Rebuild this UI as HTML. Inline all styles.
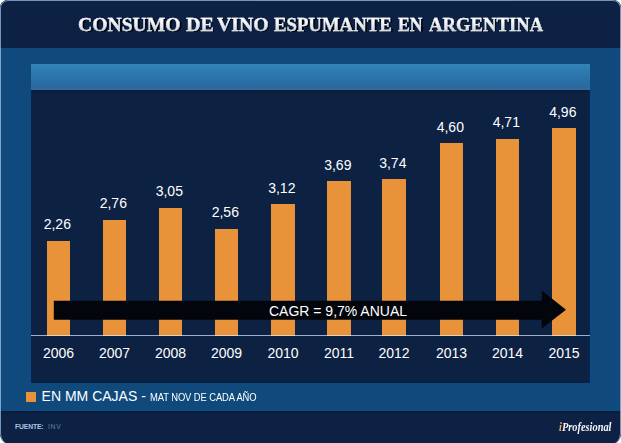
<!DOCTYPE html>
<html><head><meta charset="utf-8">
<style>
html,body{margin:0;padding:0;background:#fff;}
body{width:621px;height:443px;position:relative;overflow:hidden;font-family:"Liberation Sans",sans-serif;}
#box{position:absolute;left:0;top:0;width:621px;height:445px;border-radius:8px 8px 12px 12px;overflow:hidden;background:#104a7c;}
#hdr{position:absolute;left:0;top:0;width:621px;height:48px;background:#0c2143;}
.tw{position:absolute;top:10.9px;font-family:"Liberation Serif",serif;font-weight:bold;font-size:19.8px;line-height:26px;white-space:nowrap;transform-origin:0 0;}
.tsh{color:rgba(0,0,0,0.85);margin-top:1.2px;filter:blur(0.5px);}
.ttx{background:linear-gradient(#ffffff 35%,#c4ccd8 85%);-webkit-background-clip:text;background-clip:text;color:transparent;-webkit-text-stroke:0.3px rgba(230,235,245,0.9);}
#gbar{position:absolute;left:31px;top:64px;width:559px;height:26px;background:linear-gradient(#3383b9,#2d78ae 35%,#286a9f 88%,#35699b 96%,#3a6d9e);}
#plot{position:absolute;left:31px;top:90px;width:559px;height:293px;background:linear-gradient(#051d3c,#0d2243 4px,#0d2243);box-shadow:inset 1px 0 #072450,inset -2px 0 #062451,inset 0 -2px #06213f;}
#axis{position:absolute;left:31px;top:334.5px;width:559px;height:1.5px;background:rgba(225,235,255,0.7);}
.bar{position:absolute;width:23px;background:#e8933a;}
.val{position:absolute;width:60px;text-align:center;color:#fff;font-size:14px;line-height:15px;}
.yr{position:absolute;top:345.6px;width:60px;text-align:center;color:#fff;font-size:14px;line-height:15px;}
#arrow{position:absolute;left:0;top:0;}
#cagr{position:absolute;left:200px;top:302px;width:276px;text-align:center;color:#fff;font-size:14px;line-height:19px;}
#ftr{position:absolute;left:0;top:411px;width:621px;height:35px;background:linear-gradient(#061c3b,#0c2143 3px,#0c2143);}
#sq{position:absolute;left:26px;top:392px;width:10px;height:10px;background:#e8933a;}
#leg1{position:absolute;left:41.6px;top:387.5px;color:#fff;font-size:14px;line-height:16px;white-space:nowrap;}
#leg2{position:absolute;left:149.6px;top:392.4px;color:#fff;font-size:10px;line-height:12px;white-space:nowrap;letter-spacing:-0.1px;transform:scaleX(0.94);transform-origin:0 0;}
#src{position:absolute;left:15px;top:422.25px;font-size:6.8px;line-height:9px;color:#a9c4e8;white-space:nowrap;font-weight:bold;letter-spacing:-0.15px;}
#inv{position:absolute;left:48px;top:422.25px;font-size:6.8px;line-height:9px;color:#6683ab;white-space:nowrap;letter-spacing:0.7px;}
#logo{position:absolute;left:558.5px;top:419.5px;font-family:"Liberation Serif",serif;font-weight:bold;font-style:italic;font-size:12px;line-height:14px;color:#f4f6fa;white-space:nowrap;transform:scaleX(0.865);transform-origin:0 0;}
#logo span{color:#e8b070;}
#edge{position:absolute;left:0;top:0;width:619px;height:444px;border:1px solid rgba(190,220,255,0.62);border-bottom:none;border-radius:8px 8px 12px 12px;}
</style></head><body>
<div id="box">
<div id="hdr"></div>
<div class="tw tsh" style="left:79.64px;transform:scaleX(0.9934)">CONSUMO</div><div class="tw tsh" style="left:187.45px;transform:scaleX(1.0137)">DE</div><div class="tw tsh" style="left:218.38px;transform:scaleX(0.9997)">VINO</div><div class="tw tsh" style="left:275.68px;transform:scaleX(0.9475)">ESPUMANTE</div><div class="tw tsh" style="left:399.50px;transform:scaleX(0.8994)">EN</div><div class="tw tsh" style="left:430.02px;transform:scaleX(0.9447)">ARGENTINA</div>
<div class="tw ttx" style="left:78.44px;transform:scaleX(0.9934)">CONSUMO</div><div class="tw ttx" style="left:186.25px;transform:scaleX(1.0137)">DE</div><div class="tw ttx" style="left:217.18px;transform:scaleX(0.9997)">VINO</div><div class="tw ttx" style="left:274.48px;transform:scaleX(0.9475)">ESPUMANTE</div><div class="tw ttx" style="left:398.30px;transform:scaleX(0.8994)">EN</div><div class="tw ttx" style="left:428.82px;transform:scaleX(0.9447)">ARGENTINA</div>
<div id="gbar"></div>
<div id="plot"></div>
<div class="bar" style="left:47px;width:23px;top:241px;height:95px"></div>
<div class="val" style="left:27.30px;top:217.16px">2,26</div>
<div class="yr" style="left:28.50px">2006</div>
<div class="bar" style="left:103px;width:23px;top:220px;height:116px"></div>
<div class="val" style="left:83.30px;top:196.34px">2,76</div>
<div class="yr" style="left:84.50px">2007</div>
<div class="bar" style="left:159px;width:23px;top:208px;height:128px"></div>
<div class="val" style="left:139.30px;top:184.27px">3,05</div>
<div class="yr" style="left:140.50px">2008</div>
<div class="bar" style="left:215px;width:23px;top:229px;height:107px"></div>
<div class="val" style="left:195.30px;top:204.67px">2,56</div>
<div class="yr" style="left:196.50px">2009</div>
<div class="bar" style="left:271px;width:24px;top:204px;height:132px"></div>
<div class="val" style="left:251.80px;top:181.35px">3,12</div>
<div class="yr" style="left:253.00px">2010</div>
<div class="bar" style="left:327px;width:24px;top:181px;height:155px"></div>
<div class="val" style="left:307.80px;top:157.63px">3,69</div>
<div class="yr" style="left:309.00px">2011</div>
<div class="bar" style="left:382px;width:24px;top:179px;height:157px"></div>
<div class="val" style="left:362.80px;top:155.54px">3,74</div>
<div class="yr" style="left:364.00px">2012</div>
<div class="bar" style="left:440px;width:23px;top:143px;height:193px"></div>
<div class="val" style="left:420.30px;top:119.74px">4,60</div>
<div class="yr" style="left:421.50px">2013</div>
<div class="bar" style="left:496px;width:23px;top:139px;height:197px"></div>
<div class="val" style="left:476.30px;top:115.16px">4,71</div>
<div class="yr" style="left:477.50px">2014</div>
<div class="bar" style="left:552px;width:24px;top:128px;height:208px"></div>
<div class="val" style="left:532.80px;top:104.76px">4,96</div>
<div class="yr" style="left:534.00px">2015</div>

<div id="axis"></div>
<svg id="arrow" width="621" height="443"><polygon points="53.8,300.7 541.8,300.7 541.8,290.6 566,309.8 541.8,328.6 541.8,319.8 53.8,319.8" fill="#03050d"/></svg>
<div id="cagr">CAGR = 9,7% ANUAL</div>
<div id="sq"></div>
<div id="leg1">EN MM CAJAS -</div>
<div id="leg2">MAT NOV DE CADA AÑO</div>
<div id="ftr"></div>
<div id="src">FUENTE:</div><div id="inv">INV</div>
<div id="logo"><span>i</span>Profesional</div>
<div id="edge"></div>
</div>
</body></html>
